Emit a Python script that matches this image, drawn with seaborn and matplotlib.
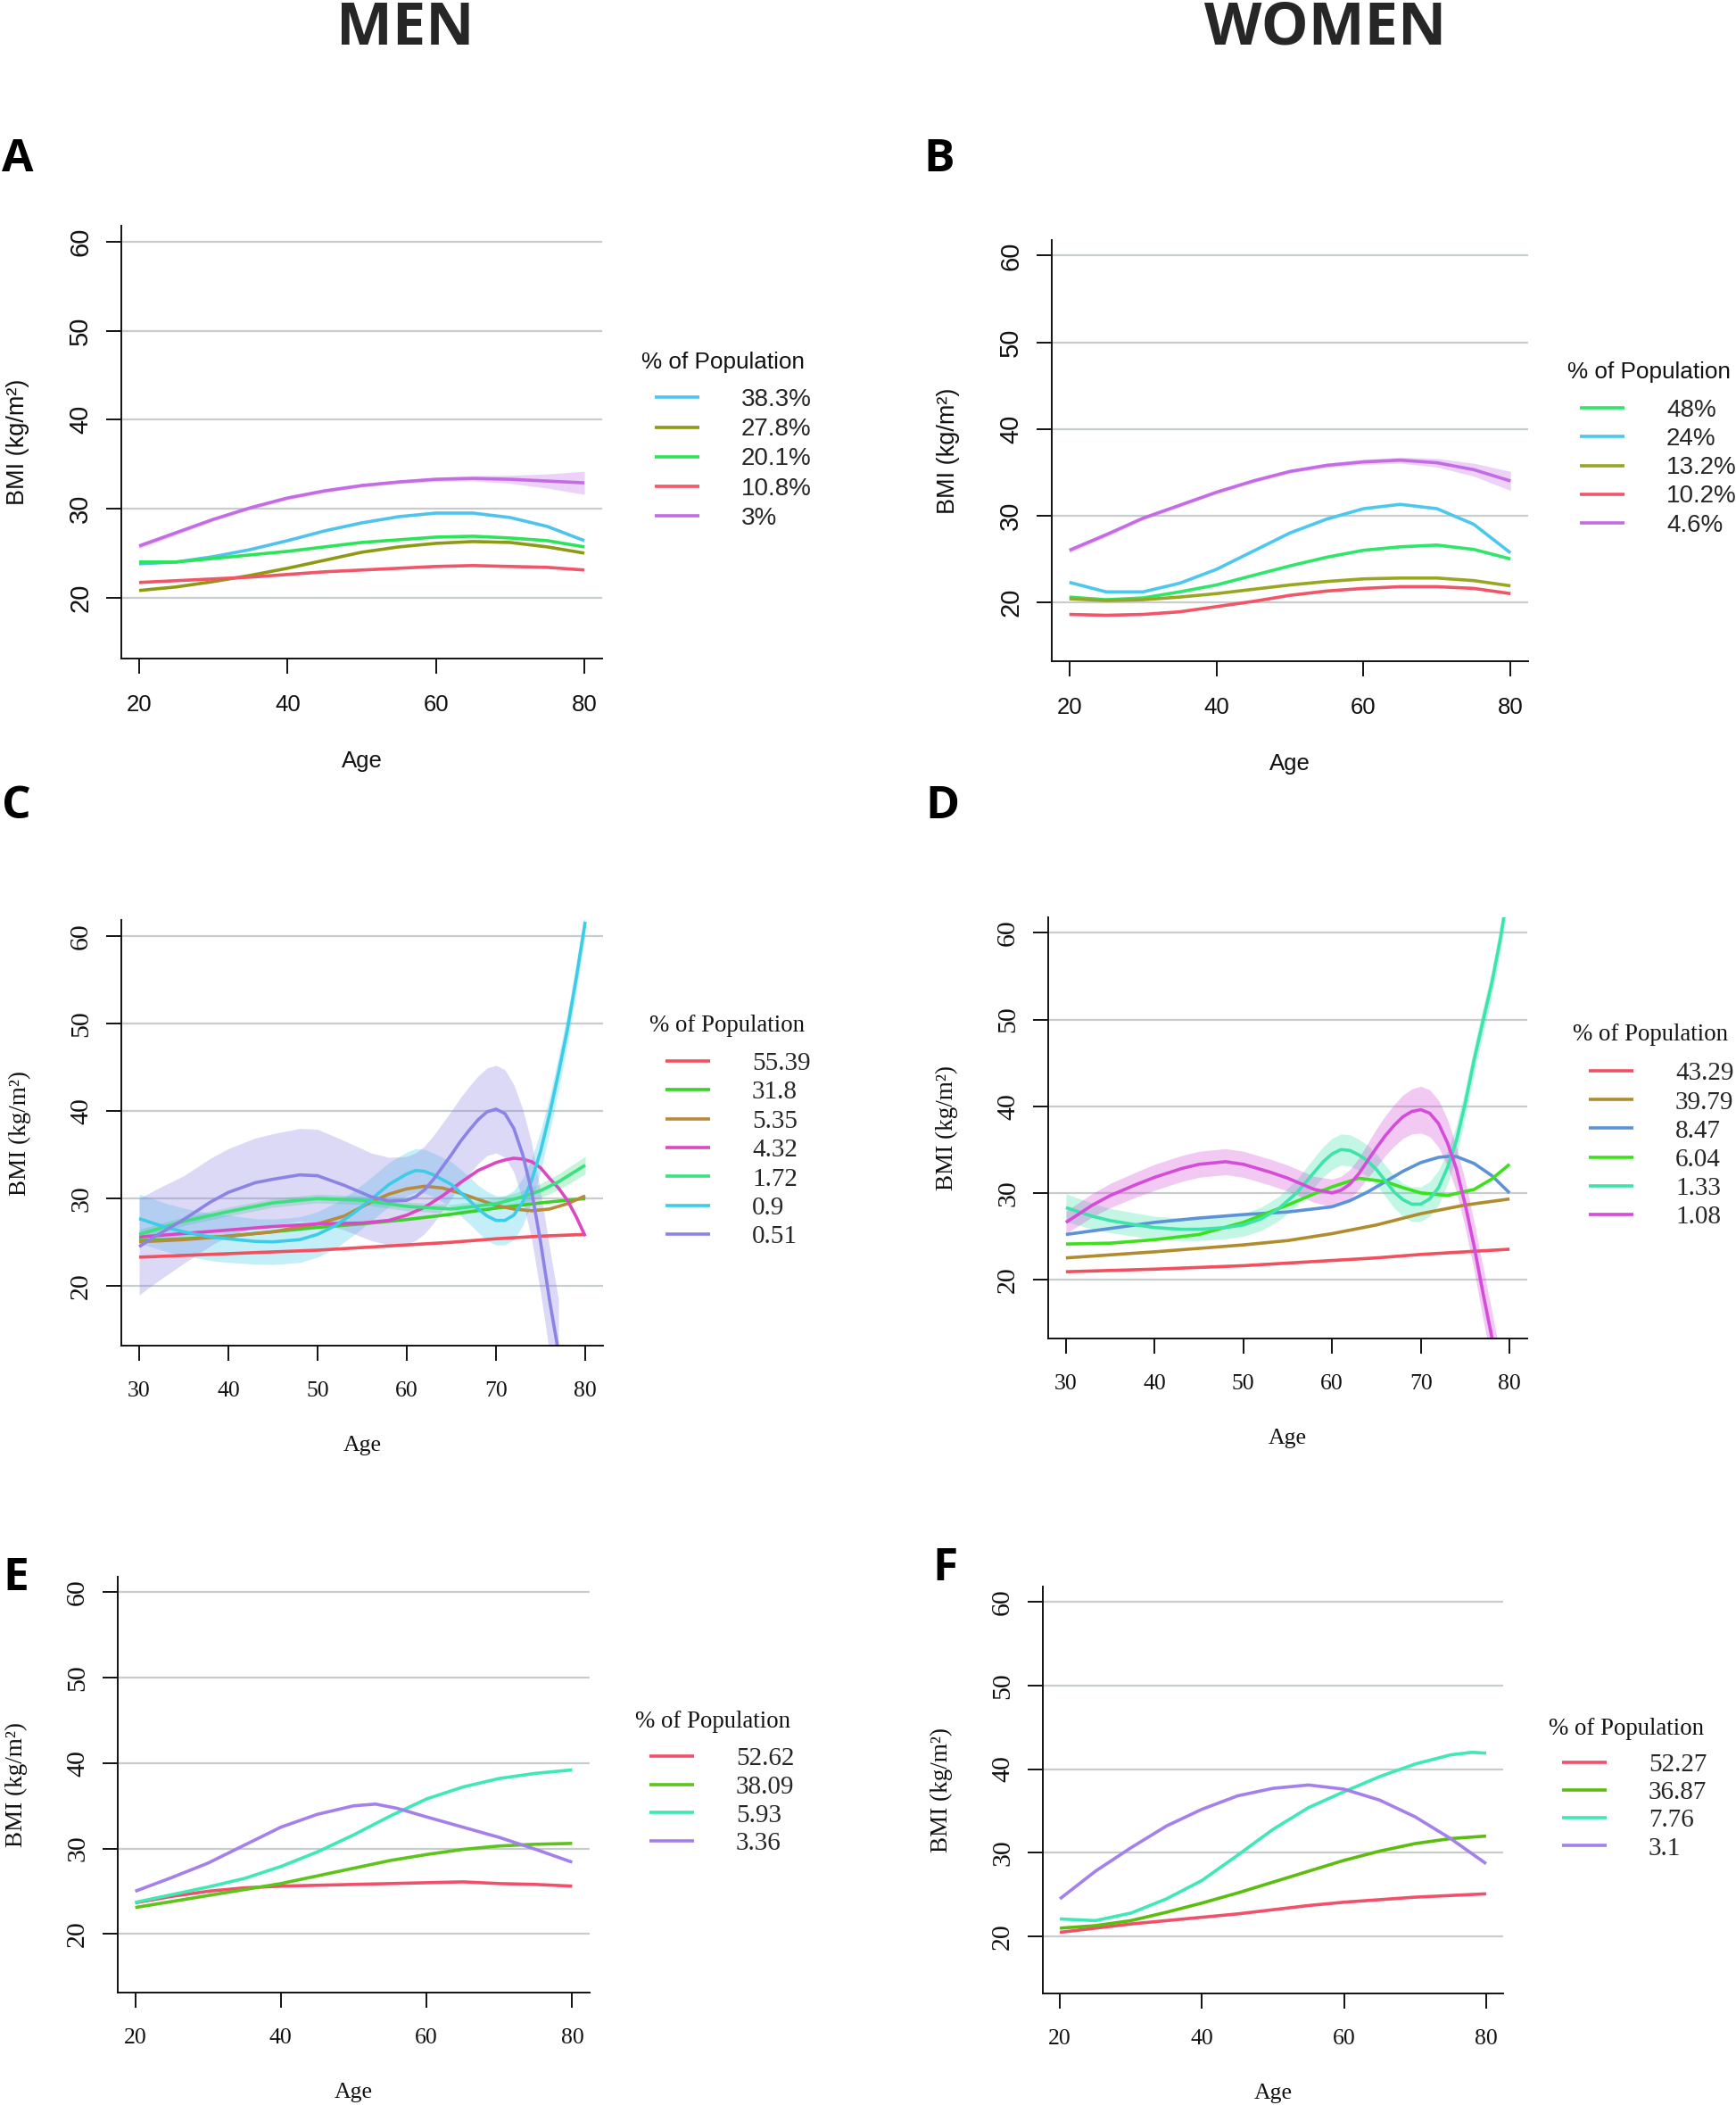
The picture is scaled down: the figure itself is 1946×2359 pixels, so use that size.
import numpy as np
import pandas as pd
import matplotlib
matplotlib.use("Agg")
import matplotlib.pyplot as plt
import seaborn as sns
from matplotlib.font_manager import FontProperties

W, H = 1946, 2359

# ---------------- A: men, classes by % of population ----------------
a_age = [20, 25, 30, 35, 40, 45, 50, 55, 60, 65, 70, 75, 80]
a_383 = [23.8, 24.0, 24.6, 25.4, 26.4, 27.5, 28.4, 29.1, 29.5, 29.5, 29.0, 28.0, 26.4]
a_278 = [20.8, 21.2, 21.8, 22.5, 23.3, 24.2, 25.1, 25.7, 26.1, 26.3, 26.2, 25.7, 25.0]
a_201 = [24.0, 24.0, 24.4, 24.8, 25.2, 25.7, 26.2, 26.5, 26.8, 26.9, 26.7, 26.4, 25.7]
a_108 = [21.7, 21.9, 22.1, 22.3, 22.6, 22.9, 23.1, 23.3, 23.5, 23.6, 23.5, 23.4, 23.1]
a_3 = [25.8, 27.3, 28.8, 30.1, 31.2, 32.0, 32.6, 33.0, 33.3, 33.4, 33.3, 33.1, 32.9]
a_3_ci = [0.3, 0.25, 0.2, 0.2, 0.2, 0.2, 0.2, 0.2, 0.25, 0.3, 0.45, 0.8, 1.3]

# ---------------- B: women ----------------
b_age = [20, 25, 30, 35, 40, 45, 50, 55, 60, 65, 70, 75, 80]
b_48 = [20.6, 20.3, 20.5, 21.2, 22.0, 23.1, 24.2, 25.2, 26.0, 26.4, 26.6, 26.1, 25.0]
b_24 = [22.3, 21.2, 21.2, 22.2, 23.8, 25.9, 28.0, 29.6, 30.8, 31.3, 30.8, 29.0, 25.7]
b_132 = [20.4, 20.2, 20.3, 20.6, 21.0, 21.5, 22.0, 22.4, 22.7, 22.8, 22.8, 22.5, 21.9]
b_102 = [18.6, 18.5, 18.6, 18.9, 19.5, 20.1, 20.8, 21.3, 21.6, 21.8, 21.8, 21.6, 21.0]
b_46 = [26.0, 27.8, 29.7, 31.2, 32.7, 34.0, 35.1, 35.8, 36.2, 36.4, 36.1, 35.3, 34.0]
b_46_ci = [0.3, 0.25, 0.2, 0.2, 0.2, 0.2, 0.2, 0.25, 0.3, 0.35, 0.5, 0.75, 1.1]

# ---------------- C: men ----------------
c_age = [30, 35, 40, 45, 50, 55, 60, 65, 70, 75, 80]
c_5539 = [23.3, 23.5, 23.7, 23.9, 24.1, 24.4, 24.7, 25.0, 25.4, 25.7, 25.9]
c_318 = [25.2, 25.4, 25.7, 26.2, 26.7, 27.1, 27.6, 28.2, 28.9, 29.5, 30.0]
c_535_age = [30, 35, 40, 45, 50, 53, 56, 58, 60, 62, 64, 66, 68, 70, 72, 74, 76, 78, 80]
c_535 = [25.05, 25.3, 25.7, 26.2, 27.1, 28.0, 29.6, 30.5, 31.1, 31.4, 31.2, 30.6, 29.9,
         29.2, 28.8, 28.6, 28.8, 29.4, 30.3]
c_432_age = [30, 35, 40, 45, 50, 55, 58, 60, 62, 64, 66, 68, 70, 71, 72, 73, 74, 75, 76,
             77, 78, 79, 80]
c_432 = [25.6, 26.0, 26.4, 26.8, 27.1, 27.2, 27.5, 28.1, 29.0, 30.3, 31.8, 33.2, 34.1,
         34.4, 34.6, 34.5, 34.2, 33.5, 32.3, 31.2, 29.8, 27.9, 25.7]
c_172_age = [30, 35, 40, 45, 50, 55, 60, 65, 70, 73, 75, 77, 80]
c_172 = [25.9, 27.4, 28.5, 29.5, 30.0, 29.8, 29.1, 28.8, 29.4, 30.2, 30.9, 31.9, 33.8]
c_172_ci = [0.6, 0.5, 0.5, 0.5, 0.5, 0.5, 0.5, 0.5, 0.6, 0.7, 0.8, 0.9, 1.0]
c_09_age = [30, 33, 35, 38, 40, 43, 45, 48, 50, 52, 54, 56, 58, 60, 61, 62, 63, 65, 67,
            68, 69, 70, 71, 72, 73, 74, 75, 76, 77, 78, 79, 80]
c_09 = [27.7, 26.7, 26.2, 25.6, 25.4, 25.1, 25.05, 25.3, 25.9, 26.9, 28.3, 29.9, 31.6,
        32.8, 33.2, 33.1, 32.7, 31.6, 29.8, 28.8, 28.0, 27.5, 27.5, 28.1, 29.6, 32.1,
        35.4, 39.6, 44.3, 49.3, 55.2, 61.6]
c_09_ci = [2.8, 2.75, 2.7, 2.7, 2.7, 2.6, 2.6, 2.6, 2.6, 2.6, 2.5, 2.5, 2.5, 2.5, 2.5,
           2.5, 2.5, 2.6, 2.7, 2.7, 2.8, 2.8, 2.8, 2.8, 2.7, 2.5, 2.3, 2.0, 1.9, 1.8,
           1.6, 1.5]
c_051_age = [30, 32, 35, 38, 40, 43, 45, 48, 50, 53, 56, 58, 60, 61, 62, 63, 64, 65, 66,
             67, 68, 69, 70, 71, 72, 73, 74, 75, 76, 77]
c_051 = [24.5, 25.8, 27.6, 29.6, 30.7, 31.8, 32.2, 32.7, 32.6, 31.5, 30.2, 29.7, 29.8,
         30.2, 31.0, 32.2, 33.6, 35.0, 36.5, 37.8, 39.0, 39.9, 40.2, 39.7, 38.0, 35.0,
         30.8, 25.0, 18.4, 12.5]
c_051_ci = [5.5, 5.3, 5.0, 5.0, 5.0, 5.1, 5.2, 5.3, 5.3, 5.1, 5.0, 5.0, 5.0, 5.0, 5.0,
            5.0, 5.0, 5.0, 5.0, 5.0, 5.0, 5.0, 5.0, 5.0, 5.0, 5.2, 5.5, 5.8, 6.0, 6.0]

# ---------------- D: women ----------------
d_age = [30, 35, 40, 45, 50, 55, 60, 65, 70, 75, 80]
d_4329 = [20.9, 21.05, 21.2, 21.4, 21.6, 21.9, 22.2, 22.5, 22.9, 23.2, 23.5]
d_3979 = [22.5, 22.85, 23.2, 23.6, 24.0, 24.5, 25.3, 26.3, 27.6, 28.6, 29.3]
d_847_age = [30, 35, 40, 45, 50, 55, 60, 62, 64, 66, 68, 70, 72, 73, 74, 76, 78, 80]
d_847 = [25.2, 25.9, 26.6, 27.1, 27.5, 27.8, 28.4, 29.1, 30.1, 31.3, 32.5, 33.5, 34.1,
         34.2, 34.2, 33.4, 32.0, 30.0]
d_604_age = [30, 35, 40, 45, 50, 55, 58, 60, 63, 66, 68, 70, 73, 76, 78, 80]
d_604 = [24.1, 24.2, 24.6, 25.2, 26.6, 28.6, 29.9, 30.7, 31.7, 31.3, 30.6, 30.0, 29.7,
         30.4, 31.6, 33.3]
d_133_age = [30, 33, 35, 38, 40, 43, 45, 48, 50, 52, 54, 56, 58, 59, 60, 61, 62, 63, 64,
             65, 66, 67, 68, 69, 70, 71, 72, 73, 74, 75, 76, 77, 78, 79, 80]
d_133 = [28.3, 27.3, 26.8, 26.3, 26.0, 25.8, 25.8, 26.0, 26.3, 27.0, 28.2, 30.0, 32.4,
         33.6, 34.5, 35.0, 34.9, 34.4, 33.7, 32.7, 31.4, 30.1, 29.2, 28.7, 28.7, 29.3,
         30.6, 32.9, 36.0, 40.3, 45.3, 49.8, 54.2, 59.5, 66.0]
d_133_ci = [1.6, 1.5, 1.4, 1.35, 1.3, 1.3, 1.3, 1.3, 1.3, 1.35, 1.4, 1.5, 1.7, 1.75, 1.8,
            1.8, 1.8, 1.8, 1.8, 1.8, 1.8, 1.85, 1.9, 2.0, 2.0, 2.0, 2.0, 1.9, 1.8, 1.7,
            1.6, 1.55, 1.5, 1.5, 1.5]
d_108_age = [30, 33, 35, 38, 40, 43, 45, 48, 50, 53, 55, 58, 60, 61, 62, 63, 64, 65, 66,
             67, 68, 69, 70, 71, 72, 73, 74, 75, 76, 77, 78, 79]
d_108 = [26.6, 28.6, 29.7, 31.0, 31.8, 32.8, 33.3, 33.6, 33.3, 32.4, 31.7, 30.4, 30.0,
         30.3, 31.0, 32.2, 33.7, 35.2, 36.6, 37.8, 38.8, 39.4, 39.6, 39.2, 38.0, 35.8,
         32.8, 28.7, 23.9, 18.5, 13.4, 8.0]
d_108_ci = [1.3, 1.35, 1.4, 1.45, 1.5, 1.5, 1.5, 1.5, 1.5, 1.5, 1.5, 1.5, 1.6, 1.6, 1.7,
            1.8, 2.0, 2.2, 2.3, 2.4, 2.5, 2.6, 2.7, 2.7, 2.7, 2.7, 2.6, 2.7, 2.8, 3.0,
            3.0, 3.0]

# ---------------- E: men ----------------
e_age = [20, 25, 30, 35, 40, 45, 50, 55, 60, 65, 70, 75, 80]
e_5262 = [23.65, 24.4, 25.0, 25.4, 25.6, 25.7, 25.8, 25.9, 26.0, 26.1, 25.9, 25.8, 25.6]
e_3809 = [23.1, 23.8, 24.5, 25.2, 25.9, 26.8, 27.7, 28.6, 29.3, 29.9, 30.3, 30.5, 30.6]
e_593 = [23.7, 24.6, 25.5, 26.5, 27.9, 29.6, 31.6, 33.8, 35.8, 37.2, 38.2, 38.8, 39.2]
e_336_age = [20, 25, 30, 35, 40, 45, 50, 53, 56, 60, 65, 70, 75, 80]
e_336 = [25.0, 26.6, 28.3, 30.4, 32.5, 34.0, 35.0, 35.2, 34.7, 33.7, 32.5, 31.3, 29.9, 28.4]

# ---------------- F: women ----------------
f_age = [20, 25, 30, 35, 40, 45, 50, 55, 60, 65, 70, 75, 80]
f_5227 = [20.5, 21.0, 21.5, 21.9, 22.3, 22.7, 23.2, 23.7, 24.1, 24.4, 24.7, 24.9, 25.1]
f_3687 = [21.0, 21.3, 21.9, 22.9, 24.0, 25.2, 26.5, 27.8, 29.1, 30.2, 31.1, 31.7, 32.0]
f_776_age = [20, 25, 30, 35, 40, 45, 50, 55, 60, 65, 70, 75, 78, 80]
f_776 = [22.1, 21.9, 22.8, 24.5, 26.7, 29.7, 32.8, 35.4, 37.3, 39.1, 40.6, 41.7, 42.0, 41.9]
f_31 = [24.5, 27.8, 30.6, 33.2, 35.2, 36.8, 37.7, 38.1, 37.6, 36.3, 34.3, 31.7, 28.7]

y_ticks = [20, 30, 40, 50, 60]

sns.set_theme(style="white")
sans = ["Liberation Sans", "DejaVu Sans"]
serif = ["Liberation Serif", "DejaVu Serif"]
plt.rcParams["font.family"] = sans

fig = plt.figure(figsize=(W / 100, H / 100), dpi=100)

panels = [
    dict(letter="A", lpos=(2, 192), rect=(136, 253, 675, 737.5), xlim=(17.6, 82.4),
         xticks=[20, 40, 60, 80], serif=False, leg=(719, 405.5, 734, 445, 33),
         series=[("38.3%", a_age, a_383, None, "#4DC3EE"),
                 ("27.8%", a_age, a_278, None, "#8E9A14"),
                 ("20.1%", a_age, a_201, None, "#2CE45A"),
                 ("10.8%", a_age, a_108, None, "#F25468"),
                 ("3%", a_age, a_3, a_3_ci, "#C46CE6")]),
    dict(letter="B", lpos=(1035, 192), rect=(1179, 269, 1713, 741), xlim=(17.6, 82.4),
         xticks=[20, 40, 60, 80], serif=False, leg=(1757, 417.5, 1771, 456.8, 32),
         series=[("48%", b_age, b_48, None, "#2EE66A"),
                 ("24%", b_age, b_24, None, "#4CC8EE"),
                 ("13.2%", b_age, b_132, None, "#98A622"),
                 ("10.2%", b_age, b_102, None, "#F25468"),
                 ("4.6%", b_age, b_46, b_46_ci, "#C46CE6")]),
    dict(letter="C", lpos=(2, 917), rect=(136, 1031, 676, 1508), xlim=(28, 82),
         xticks=[30, 40, 50, 60, 70, 80], serif=True, leg=(728, 1149, 746, 1189, 32.2),
         series=[("55.39", c_age, c_5539, None, "#F2505E"),
                 ("31.8", c_age, c_318, None, "#3CD02A"),
                 ("5.35", c_535_age, c_535, None, "#B88A3A"),
                 ("4.32", c_432_age, c_432, None, "#DC48C4"),
                 ("1.72", c_172_age, c_172, c_172_ci, "#3CE07E"),
                 ("0.9", c_09_age, c_09, c_09_ci, "#3CCCE8"),
                 ("0.51", c_051_age, c_051, c_051_ci, "#8C84E4")]),
    dict(letter="D", lpos=(1037, 917), rect=(1175, 1028, 1712, 1500), xlim=(28, 82),
         xticks=[30, 40, 50, 60, 70, 80], serif=True, leg=(1763, 1160, 1781, 1200.3, 32),
         series=[("43.29", d_age, d_4329, None, "#F2505E"),
                 ("39.79", d_age, d_3979, None, "#B08C2C"),
                 ("8.47", d_847_age, d_847, None, "#5C92D8"),
                 ("6.04", d_604_age, d_604, None, "#3CE01C"),
                 ("1.33", d_133_age, d_133, d_133_ci, "#3CE4AC"),
                 ("1.08", d_108_age, d_108, d_108_ci, "#D44CD8")]),
    dict(letter="E", lpos=(3, 1782), rect=(132, 1767, 661, 2232.5), xlim=(17.6, 82.4),
         xticks=[20, 40, 60, 80], serif=True, leg=(712, 1929, 728, 1968, 31.6),
         series=[("52.62", e_age, e_5262, None, "#F2506A"),
                 ("38.09", e_age, e_3809, None, "#5CC41A"),
                 ("5.93", e_age, e_593, None, "#40E8B8"),
                 ("3.36", e_336_age, e_336, None, "#A480EC")]),
    dict(letter="F", lpos=(1045, 1771), rect=(1169, 1778, 1685, 2234), xlim=(17.6, 82.4),
         xticks=[20, 40, 60, 80], serif=True, leg=(1736, 1937, 1751, 1975, 31),
         series=[("52.27", f_age, f_5227, None, "#F2506A"),
                 ("36.87", f_age, f_3687, None, "#5CBC10"),
                 ("7.76", f_776_age, f_776, None, "#40E8B8"),
                 ("3.1", f_age, f_31, None, "#A480EC")]),
]


def draw_panel(p):
    l, t, r, b = p["rect"]
    ax = fig.add_axes([l / W, 1 - b / H, (r - l) / W, (b - t) / H])
    fam = serif if p["serif"] else sans

    rows = []
    for lab, ages, vals, ci, col in p["series"]:
        rows += [{"age": a, "bmi": v, "group": lab} for a, v in zip(ages, vals)]
        if ci is not None:
            v = np.array(vals)
            e = np.array(ci)
            ax.fill_between(ages, v - e, v + e, color=col, alpha=0.3, lw=0)
    df = pd.DataFrame(rows)
    order = [s[0] for s in p["series"]]
    pal = {s[0]: s[4] for s in p["series"]}
    sns.lineplot(data=df, x="age", y="bmi", hue="group", hue_order=order, palette=pal,
                 estimator=None, errorbar=None, lw=2.6, solid_capstyle="butt",
                 solid_joinstyle="round", ax=ax)

    ax.set_xlim(*p["xlim"])
    ax.set_ylim(13.2, 61.8)
    ax.set_xticks(p["xticks"])
    ax.set_xticklabels([str(v) for v in p["xticks"]], fontsize=18.5, family=fam)
    ax.set_yticks(y_ticks)
    ax.set_yticklabels([str(v) for v in y_ticks], rotation=90, va="center",
                       fontsize=21.5 if p["serif"] else 21, family=fam)
    ax.tick_params(axis="both", direction="out", length=12, width=1.4, colors="#111111",
                   bottom=True, left=True)
    ax.tick_params(axis="x", pad=17)
    ax.tick_params(axis="y", pad=11)
    ax.grid(axis="y", color="#c8cccc", lw=1.6)
    ax.grid(axis="x", visible=False)
    ax.set_axisbelow(True)
    for s in ["top", "right"]:
        ax.spines[s].set_visible(False)
    for s in ["left", "bottom"]:
        ax.spines[s].set_color("#111111")
        ax.spines[s].set_linewidth(1.4)
    ax.set_xlabel("Age", fontsize=18.5, family=fam, labelpad=28, color="#111111")
    ax.set_ylabel("BMI (kg/m²)", fontsize=19.5, family=fam, labelpad=31, color="#111111")

    # legend
    tx, ty, hx, hy, pitch = p["leg"]
    fs = 21 if p["serif"] else 20
    fpx = fs * 100 / 72
    h = (0.9 if p["serif"] else 0.93) * fpx
    sns.move_legend(ax, "upper left", bbox_to_anchor=(hx / W, 1 - (hy - 0.355 * fpx) / H),
                    bbox_transform=fig.transFigure, title=None, frameon=False,
                    borderpad=0, borderaxespad=0, handlelength=50 / fpx,
                    handletextpad=47 / fpx, labelspacing=(pitch - h) / fpx,
                    prop=FontProperties(family=fam, size=fs))
    for hdl in ax.get_legend().legend_handles:
        hdl.set_linewidth(2.6)
    fig.text(tx / W, 1 - ty / H, "% of Population", ha="left", va="center",
             fontsize=19.3 if p["serif"] else 18.8, family=fam, color="#111111")

    fig.text(p["lpos"][0] / W, 1 - p["lpos"][1] / H, p["letter"], ha="left",
             va="baseline", fontsize=37, fontweight="bold",
             family=["Open Sans", "DejaVu Sans"], color="#000000")


for p in panels:
    draw_panel(p)

fig.text(454 / W, 1 - 50 / H, "MEN", ha="center", va="baseline", fontsize=48,
         fontweight="bold", family=["Open Sans", "DejaVu Sans"])
fig.text(1486 / W, 1 - 50 / H, "WOMEN", ha="center", va="baseline", fontsize=48,
         fontweight="bold", family=["Open Sans", "DejaVu Sans"])

fig.savefig("out.png", dpi=100)
